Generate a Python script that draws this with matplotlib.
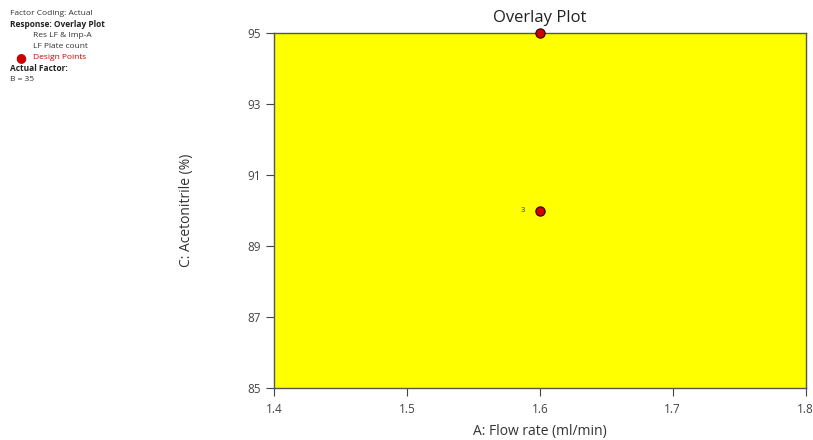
import matplotlib.pyplot as plt

plt.rcParams['font.family'] = ['Open Sans', 'DejaVu Sans']

flow_rate = [1.6, 1.6]
acetonitrile = [95, 90]
point_labels = ['', '3']
x_ticks = [1.4, 1.5, 1.6, 1.7, 1.8]
y_ticks = [85, 87, 89, 91, 93, 95]
legend_lines = [
    ('Factor Coding: Actual', 'normal', '#333333', 0),
    ('Response: Overlay Plot', 'bold', '#222222', 0),
    ('Res LF & Imp-A', 'normal', '#333333', 1),
    ('LF Plate count', 'normal', '#333333', 1),
    ('Design Points', 'normal', '#cc0000', 1),
    ('Actual Factor:', 'bold', '#222222', 0),
    ('B = 35', 'normal', '#333333', 0),
]

fig = plt.figure(figsize=(8.13, 4.40), dpi=100)
ax = fig.add_axes([0.337, 0.118, 0.654, 0.807])
ax.set_facecolor('#ffff00')
ax.set_xlim(1.4, 1.8)
ax.set_ylim(85, 95)
ax.set_xticks(x_ticks)
ax.set_yticks(y_ticks)
ax.set_xticklabels([str(t) for t in x_ticks])
ax.tick_params(labelsize=8.5, colors='#444444', length=6, width=0.8)
ax.tick_params(axis='x', pad=5)
for s in ax.spines.values():
    s.set_color('#555555')
    s.set_linewidth(1.0)

ax.scatter(flow_rate, acetonitrile, s=45, c='#cc0000', edgecolors='#330000',
           linewidths=0.8, zorder=5, clip_on=False)
for x, y, lab in zip(flow_rate, acetonitrile, point_labels):
    if lab:
        ax.annotate(lab, (x, y), xytext=(-12, 0), textcoords='offset points',
                    fontsize=5.5, va='center', ha='center', color='#333333')

# title and axis labels placed in figure pixels, as in the reference
fig.text(540 / 813, 1 - 18 / 440, 'Overlay Plot', fontsize=12, color='#222222',
         ha='center', va='center')
fig.text(540 / 813, 1 - 431 / 440, 'A: Flow rate (ml/min)', fontsize=10,
         color='#333333', ha='center', va='center')
fig.text(186 / 813, 1 - 210 / 440, 'C: Acetonitrile (%)', fontsize=10,
         color='#333333', ha='center', va='center', rotation=90)

y0 = 0.97
for i, (txt, weight, col, indent) in enumerate(legend_lines):
    y = y0 - i * 0.025
    fig.text(0.012 + indent * 0.028, y, txt, fontsize=6, fontweight=weight,
             color=col, va='center')
    if txt == 'Design Points':
        fig.text(0.025, y, '\u25cf', fontsize=9, color='#cc0000', va='center', ha='center')

fig.savefig('out.png', dpi=100)
